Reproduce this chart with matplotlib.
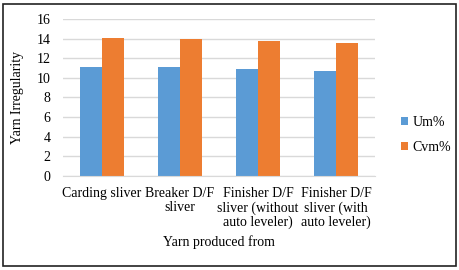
import matplotlib
matplotlib.use("Agg")
import matplotlib.pyplot as plt
import numpy as np
from matplotlib.patches import Rectangle

categories = ["Carding sliver", "Breaker D/F\nsliver", "Finisher D/F\nsliver (without\nauto leveler)", "Finisher D/F\nsliver (with\nauto leveler)"]
um = [11.15, 11.15, 10.87, 10.67]
cvm = [14.1, 14.0, 13.8, 13.5]
series_names = ["Um%", "Cvm%"]
yticks = [0, 2, 4, 6, 8, 10, 12, 14, 16]

plt.rcParams['font.family'] = ['Liberation Serif', 'DejaVu Serif']

fig = plt.figure(figsize=(4.6, 2.7), dpi=100)
ax = fig.add_axes([0.137, 0.348, 0.678, 0.582])

x = np.arange(len(categories))
w = 0.28
b1 = ax.bar(x - w/2, um, w, color='#5b9bd5', label=series_names[0], zorder=3)
b2 = ax.bar(x + w/2, cvm, w, color='#ed7d31', label=series_names[1], zorder=3)

ax.set_ylim(0, 16)
ax.set_xlim(-0.5, len(categories) - 0.5)
ax.set_yticks(yticks)
ax.set_xticks(x)
ax.set_xticklabels(categories, fontsize=10, linespacing=1.1)
ax.tick_params(axis='y', labelsize=10, length=0, pad=9)
ax.tick_params(axis='x', length=0, pad=8)
ax.yaxis.grid(True, color='#d9d9d9', linewidth=1, zorder=0)
for s in ['top', 'right', 'left']:
    ax.spines[s].set_visible(False)
ax.spines['bottom'].set_color('#d9d9d9')
ax.spines['bottom'].set_zorder(4)

ax.set_ylabel("Yarn Irregularity", fontsize=10, labelpad=9)
ax.set_xlabel("Yarn produced from", fontsize=10, labelpad=4)

fig.legend(handles=[b1, b2], labels=series_names, loc='center left',
           bbox_to_anchor=(0.845, 0.5), frameon=False, fontsize=10,
           handlelength=0.5, handleheight=0.5, handletextpad=0.3, labelspacing=0.9)

fig.patches.append(Rectangle((0.007, 0.015), 0.985, 0.972, transform=fig.transFigure,
                             fill=False, edgecolor='#222222', linewidth=1.2))

fig.savefig("out.png", dpi=100)
